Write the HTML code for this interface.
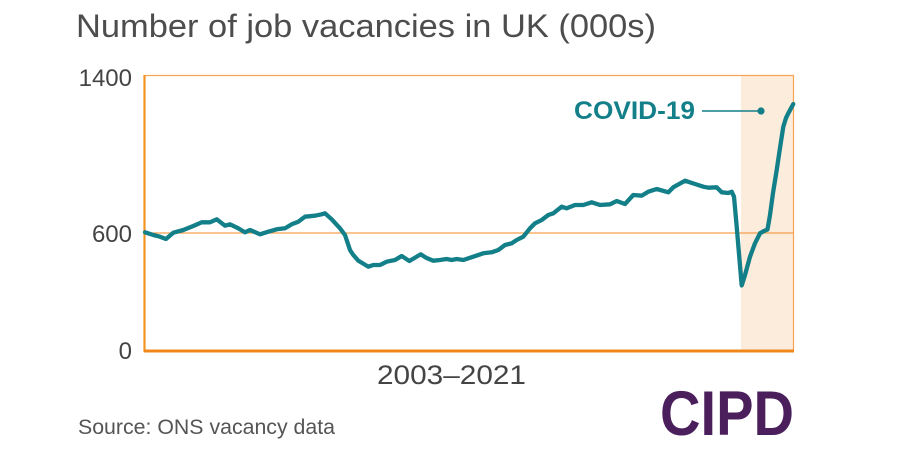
<!DOCTYPE html>
<html><head><meta charset="utf-8"><style>
html,body{margin:0;padding:0;background:#fff;}
svg{display:block;}
text{font-family:"Liberation Sans",sans-serif;}
</style></head><body>
<svg width="900" height="450" viewBox="0 0 900 450" xmlns="http://www.w3.org/2000/svg">
<rect width="900" height="450" fill="#fff"/>
<text x="76" y="37" font-size="32" fill="#4d4d4d" textLength="580" lengthAdjust="spacingAndGlyphs">Number of job vacancies in UK (000s)</text>
<!-- shaded covid region -->
<rect x="741" y="75" width="53" height="276" fill="#fcecdc"/>
<!-- frame -->
<line x1="144" y1="75.5" x2="794" y2="75.5" stroke="#f7a552" stroke-width="1.2"/>
<line x1="793.5" y1="75" x2="793.5" y2="351" stroke="#f7a552" stroke-width="1.2"/>
<line x1="144" y1="233" x2="794" y2="233" stroke="#f5a04c" stroke-width="1.3"/>
<line x1="144.5" y1="75" x2="144.5" y2="352" stroke="#f39224" stroke-width="2.2"/>
<line x1="144" y1="351" x2="794" y2="351" stroke="#f0871a" stroke-width="3"/>
<!-- y labels -->
<text x="132" y="86" font-size="24" fill="#444" text-anchor="end">1400</text>
<text x="132" y="242" font-size="24" fill="#444" text-anchor="end">600</text>
<text x="132" y="359" font-size="24" fill="#444" text-anchor="end">0</text>
<!-- series -->
<polyline fill="none" stroke="#137f89" stroke-width="4.3" stroke-linejoin="round" stroke-linecap="round" points="
145,232.3 153.3,235 160,236.7 166,239 173.3,232.7 183.3,230 193.3,226 201.7,222.3 210,222.3 216.7,219.3 225,225.7 230,224.3 238.3,228.3 245,232.3 250,230 260,234.3 268.3,231.7 276.7,229.3 285,228.3 291.7,224.3 298.3,221.7 305,216.7 315,215.7 321.7,214.3 325,213.3 331.7,219.3 340,228.3 345,235 350,250 353.3,255 358.3,260.7 368.3,266.7 373.3,265 380,265 386.7,261.7 395,260 401.7,256 409.3,261 415,257.7 420.7,254.3 426,257.7 433.3,260.7 440,260 446.7,259 451.7,260 456.7,259 463.3,260 473.3,256.7 483.3,253.3 491.7,252.3 498.3,250 505,245 511.7,243.3 516.7,240 523.3,236.7 530,228.3 535,223.3 541.7,220 548.3,215 553.3,213.3 561.7,206.7 566.7,208.3 575,205 583.3,205 591.7,202.3 600,205 610,204.3 616.7,201 625,204 633.3,195 641.7,195.7 648.3,191.7 656.7,189 668.3,192.3 673.3,187.3 685,180.7 695,184 703.3,186.7 708.3,187.7 716.7,187.3 721.7,192.3 728.3,193 731.7,191.7 734,196.7 736.7,226.7 741.7,285.5 745,275 750,256.7 755,243.3 760,233.3 764,231 767.5,229.5 770,215 773,193 776.7,170 780,148 783.3,126.7 786,118 788.3,113.3 793.3,104"/>
<!-- annotation -->
<text x="574" y="119" font-size="25" font-weight="bold" fill="#137f89" textLength="121" lengthAdjust="spacingAndGlyphs">COVID-19</text>
<line x1="702" y1="111" x2="761" y2="111" stroke="#137f89" stroke-width="1.6"/>
<circle cx="761" cy="111" r="3.6" fill="#137f89"/>
<!-- x label -->
<text x="377" y="384" font-size="27" fill="#444" textLength="149" lengthAdjust="spacingAndGlyphs">2003–2021</text>
<!-- source -->
<text x="78" y="434" font-size="21" fill="#555" textLength="257" lengthAdjust="spacingAndGlyphs">Source: ONS vacancy data</text>
<!-- logo -->
<text x="660" y="435" font-size="63" font-weight="bold" fill="#4a1f5b" textLength="134" lengthAdjust="spacingAndGlyphs">CIPD</text>
</svg>
</body></html>
